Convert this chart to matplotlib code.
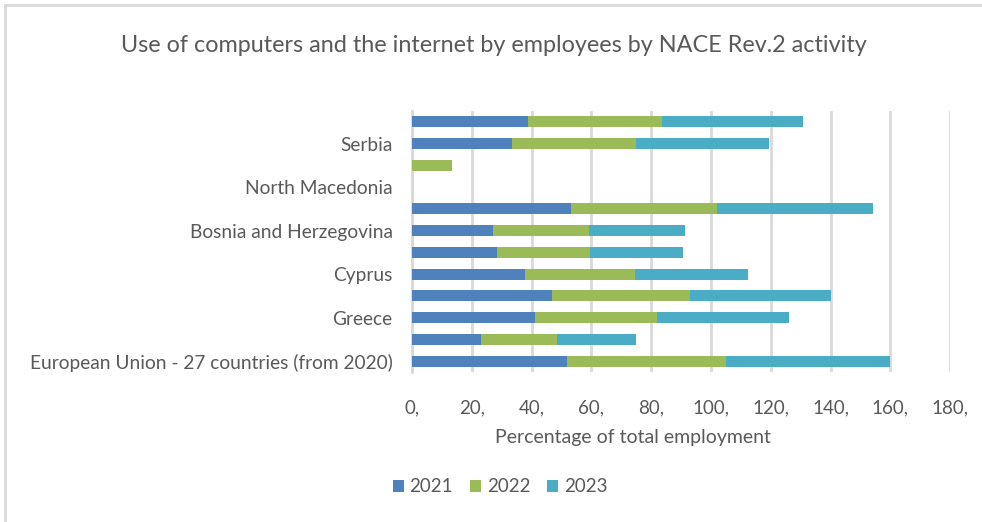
import matplotlib
matplotlib.use("Agg")
import matplotlib.pyplot as plt
from matplotlib.lines import Line2D
from matplotlib.patches import Patch
from matplotlib.ticker import FuncFormatter, MultipleLocator
import numpy as np

# Rows listed bottom to top; every second label is left blank on the axis
countries = [
    "European Union - 27 countries (from 2020)", "",
    "Greece", "",
    "Cyprus", "",
    "Bosnia and Herzegovina", "",
    "North Macedonia", "",
    "Serbia", "",
]
years = ["2021", "2022", "2023"]
v2021 = [51.9, 23.2, 41.2, 46.8, 37.8, 28.3, 27.1, 53.2, 0.0, 0.0, 33.5, 38.7]
v2022 = [53.2, 25.3, 40.7, 46.3, 36.8, 31.3, 32.1, 48.9, 0.0, 13.2, 41.5, 45.0]
v2023 = [54.9, 26.5, 44.1, 47.1, 37.7, 30.9, 32.2, 52.2, 0.0, 0.0, 44.3, 47.1]

colors = ["#4f81bd", "#9bbb59", "#4bacc6"]
text_gray = "#595959"
grid_gray = "#d9d9d9"
font = "Lato"

fig = plt.figure(figsize=(9.82, 5.22), dpi=100)
fig.patch.set_facecolor("white")
# chart frame: top and left edges
fig.add_artist(Line2D([0.005, 1.0], [0.991, 0.991], transform=fig.transFigure,
                      color="#d9d9d9", linewidth=2))
fig.add_artist(Line2D([0.005, 0.005], [0.0, 0.991], transform=fig.transFigure,
                      color="#d9d9d9", linewidth=2))

ax = fig.add_axes([0.4196, 0.2874, 0.5479, 0.5])
y = np.arange(len(countries))
left = np.zeros(len(countries))
for vals, c, yr in zip([v2021, v2022, v2023], colors, years):
    ax.barh(y, vals, left=left, height=0.5, color=c, label=yr, zorder=3)
    left = left + np.array(vals)

ax.set_xlim(0, 180)
ax.set_ylim(-0.5, len(countries) - 0.5)
ax.xaxis.set_major_locator(MultipleLocator(20))
ax.xaxis.set_major_formatter(FuncFormatter(lambda v, p: f"{int(v)},"))
ax.set_yticks(y)
ax.set_yticklabels(countries)
ax.grid(axis="x", color=grid_gray, linewidth=2, zorder=0)
for s in ["top", "right", "bottom"]:
    ax.spines[s].set_visible(False)
ax.spines["left"].set_color(grid_gray)
ax.spines["left"].set_linewidth(2)
ax.tick_params(axis="x", length=0, colors=text_gray, labelsize=13.5, pad=20)
ax.tick_params(axis="y", length=0, colors=text_gray, labelsize=13.8, pad=14)
for lab in ax.get_xticklabels() + ax.get_yticklabels():
    lab.set_fontfamily(font)

fig.text(633 / 982, 1 - 437 / 522, "Percentage of total employment", ha="center",
         va="center", fontsize=14, color=text_gray, fontfamily=font)

fig.text(494 / 982, 1 - 46 / 522,
         "Use of computers and the internet by employees by NACE Rev.2 activity",
         ha="center", va="center", fontsize=16.8, color=text_gray, fontfamily=font)

handles = [Patch(facecolor=c, label=yr) for c, yr in zip(colors, years)]
fig.legend(handles=handles, loc="center", bbox_to_anchor=(500 / 982, 1 - 487 / 522), ncol=3,
           frameon=False, prop={"family": font, "size": 13.5}, labelcolor=text_gray,
           handlelength=0.6, handleheight=0.6, handletextpad=0.3, columnspacing=0.9)

fig.savefig("out.png", dpi=100, facecolor="white")
